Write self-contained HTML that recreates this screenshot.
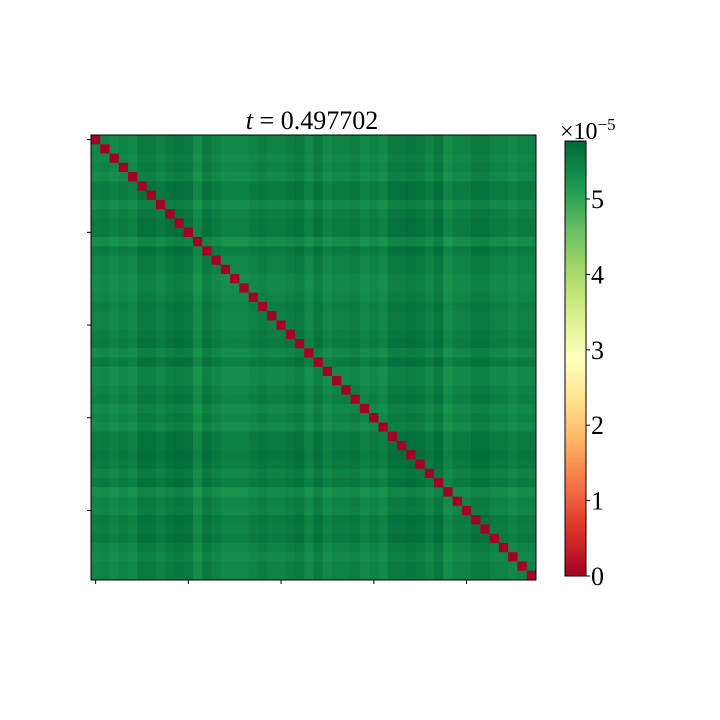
<!DOCTYPE html>
<html><head><meta charset="utf-8"><style>
body{margin:0;background:#fff;width:720px;height:720px;overflow:hidden}
svg{display:block}
text{font-family:"Liberation Serif",serif;fill:#000}
</style></head><body>
<svg id="chart" width="720" height="720" xmlns="http://www.w3.org/2000/svg">
<defs><linearGradient id="cmap" x1="0" y1="1" x2="0" y2="0">
<stop offset="0" stop-color="#a50026"/><stop offset="0.1" stop-color="#d73027"/><stop offset="0.2" stop-color="#f46d43"/><stop offset="0.3" stop-color="#fdae61"/><stop offset="0.4" stop-color="#fee08b"/><stop offset="0.5" stop-color="#ffffbf"/><stop offset="0.6" stop-color="#d9ef8b"/><stop offset="0.7" stop-color="#a6d96a"/><stop offset="0.8" stop-color="#66bd63"/><stop offset="0.9" stop-color="#1a9850"/><stop offset="1" stop-color="#006837"/>
</linearGradient></defs>
<g id="cells"></g>
<rect x="91" y="135" width="445" height="445" fill="none" stroke="#000" stroke-width="1"/>
<g id="ticks"></g>
<text x="312" y="129" font-size="26" text-anchor="middle"><tspan font-style="italic">t</tspan> = 0.497702</text>
<rect x="565" y="141" width="21" height="435" fill="url(#cmap)" stroke="#000" stroke-width="1"/>
<g id="cbticks"></g>
<text x="560" y="139" font-size="24">×10<tspan dy="-9" font-size="17">−5</tspan></text>
</svg>
<script>
const rowLevel=[5.45,5.45,5.35,5.45,5.3,5.65,5.65,5.3,5.55,5.65,5.65,5.2,5.65,5.45,5.45,5.3,5.3,5.4,5.55,5.45,5.45,5.55,5.65,5.3,5.65,5.3,5.3,5.45,5.55,5.3,5.45,5.3,5.65,5.65,5.72,5.65,5.45,5.65,5.2,5.45,5.4,5.65,5.55,5.65,5.45,5.3,5.45,5.45];
const colLevel=[5.4,5.45,5.3,5.45,5.3,5.65,5.65,5.45,5.65,5.72,5.65,5.2,5.65,5.45,5.3,5.3,5.3,5.45,5.55,5.45,5.45,5.55,5.65,5.3,5.65,5.3,5.45,5.45,5.55,5.3,5.45,5.3,5.65,5.65,5.72,5.65,5.45,5.72,5.2,5.45,5.45,5.65,5.65,5.45,5.45,5.3,5.45,5.45];
const cbTicks=[0,1,2,3,4,5];
const vmin=0,vmax=5.77;
const N=rowLevel.length,X0=91,Y0=135,S=445;
const cw=S/N;
const stops=[[165,0,38],[215,48,39],[244,109,67],[253,174,97],[254,224,139],[255,255,191],[217,239,139],[166,217,106],[102,189,99],[26,152,80],[0,104,55]];
function cmap(v){let t=Math.max(0,Math.min(1,(v-vmin)/(vmax-vmin)))*10;let i=Math.min(9,Math.floor(t)),f=t-i;const a=stops[i],b=stops[i+1];return `rgb(${a.map((x,k)=>Math.round(x+(b[k]-x)*f)).join(',')})`;}
const ns="http://www.w3.org/2000/svg";
const g=document.getElementById('cells');
for(let i=0;i<N;i++)for(let j=0;j<N;j++){
 const v=i===j?0:(rowLevel[i]+colLevel[j])/2;
 const r=document.createElementNS(ns,'rect');
 
 
 r.setAttribute('x',X0+j*cw);r.setAttribute('y',Y0+i*cw);
 r.setAttribute('width',cw+0.5);r.setAttribute('height',cw+0.5);
 r.setAttribute('fill',cmap(v));g.appendChild(r);
}
const tg=document.getElementById('ticks');
for(let k=0;k<N;k+=10){
 const p=X0+(k+0.5)*cw;
 const a=document.createElementNS(ns,'line');
 
 
 a.setAttribute('x1',p);a.setAttribute('x2',p);a.setAttribute('y1',580);a.setAttribute('y2',584);a.setAttribute('stroke','#000');tg.appendChild(a);
 const b=document.createElementNS(ns,'line');
 
 
 b.setAttribute('x1',87);b.setAttribute('x2',91);b.setAttribute('y1',Y0+(k+0.5)*cw);b.setAttribute('y2',Y0+(k+0.5)*cw);b.setAttribute('stroke','#000');tg.appendChild(b);
}
const cg=document.getElementById('cbticks');
for(const t of cbTicks){
 const y=576-(t-vmin)/(vmax-vmin)*435;
 const l=document.createElementNS(ns,'line');
 
 
 l.setAttribute('x1',586);l.setAttribute('x2',590);l.setAttribute('y1',y);l.setAttribute('y2',y);l.setAttribute('stroke','#000');cg.appendChild(l);
 const tx=document.createElementNS(ns,'text');
 
 
 tx.setAttribute('x',591);tx.setAttribute('y',y+9);tx.setAttribute('font-size','26');tx.textContent=t;cg.appendChild(tx);
}
</script>
</body></html>
